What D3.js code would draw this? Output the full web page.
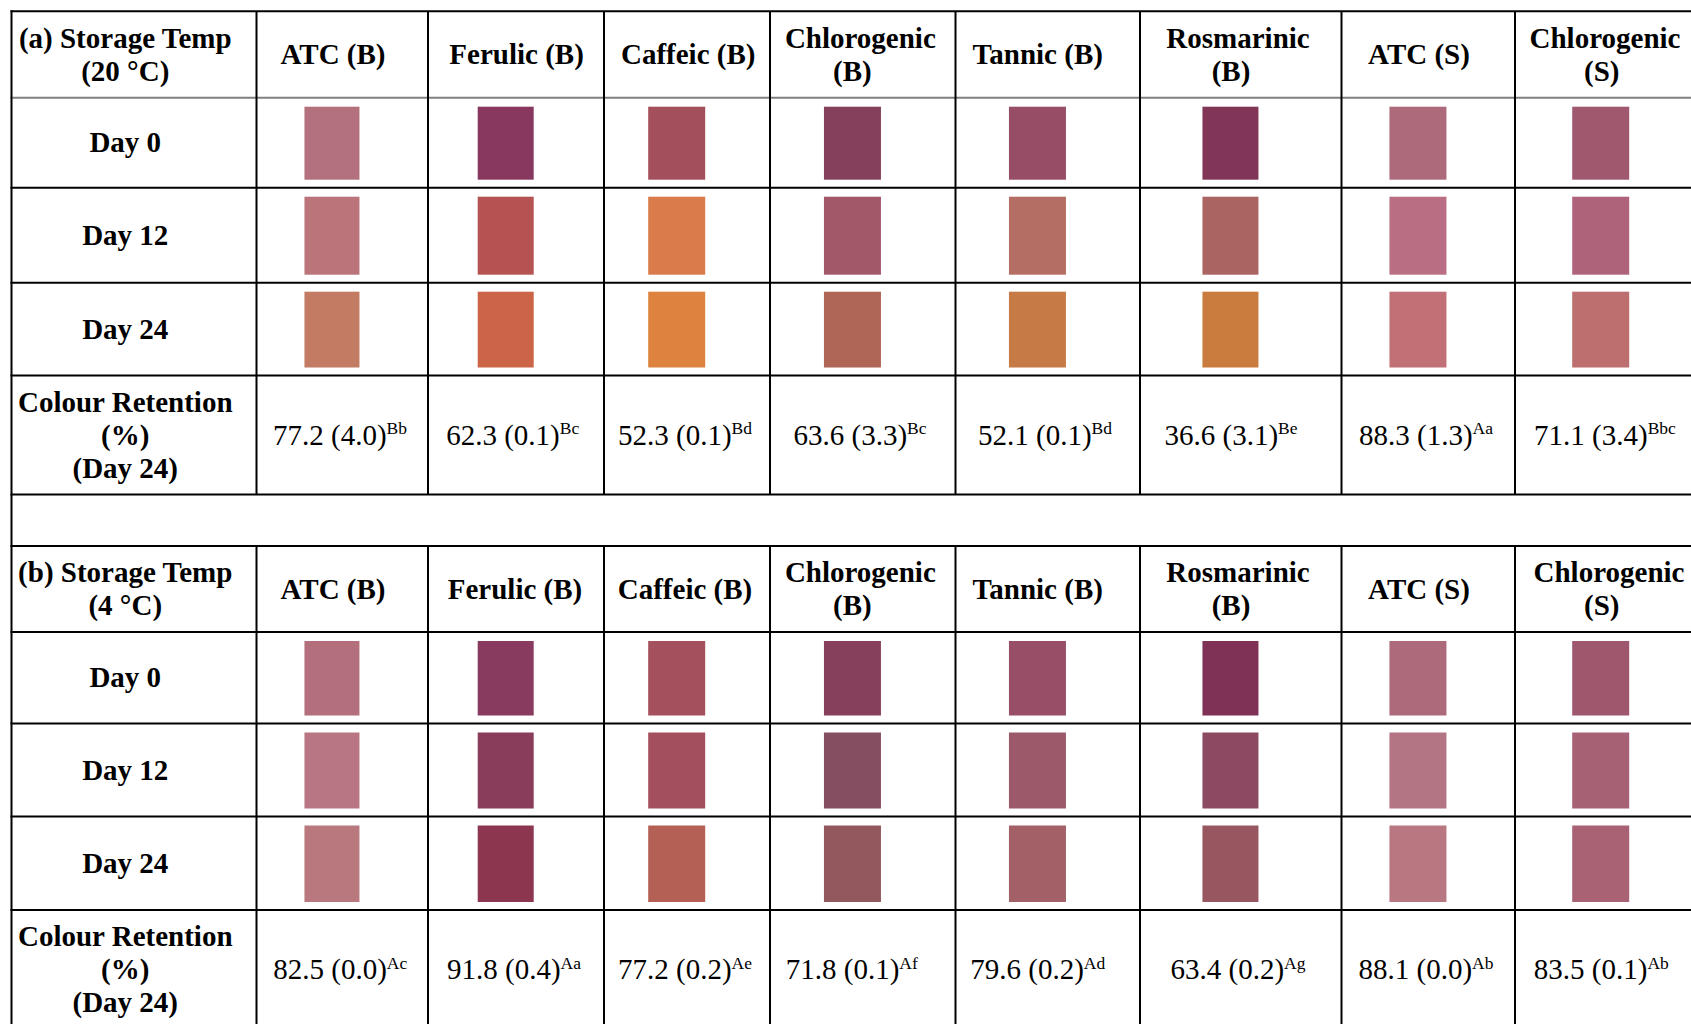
<!DOCTYPE html>
<html><head><meta charset="utf-8">
<script src="https://cdn.jsdelivr.net/npm/d3@7"></script>
<style>html,body{margin:0;padding:0;background:#fff;overflow:hidden}</style>
</head><body><svg id="c" width="1691" height="1024"></svg>
<script>
// ---------- data ----------
const columns = ["ATC (B)","Ferulic (B)","Caffeic (B)","Chlorogenic (B)","Tannic (B)","Rosmarinic (B)","ATC (S)","Chlorogenic (S)"];
const headerLines = [["ATC (B)"],["Ferulic (B)"],["Caffeic (B)"],["Chlorogenic","(B)"],["Tannic (B)"],["Rosmarinic","(B)"],["ATC (S)"],["Chlorogenic","(S)"]];
const days = ["Day 0","Day 12","Day 24"];
const panelTitles = [["(a) Storage Temp","(20 °C)"],["(b) Storage Temp","(4 °C)"]];
const retentionLabel = ["Colour Retention","(%)","(Day 24)"];

const colours20 = [
  ["#b3707d","#88385e","#a3505c","#85415c","#974d66","#813657","#ad6a7b","#a0586f"],
  ["#bb7479","#b55252","#d97b4b","#a3586a","#b56e64","#aa6462","#b96e84","#ae637b"],
  ["#c47b63","#cc6447","#dd833f","#b06657","#c67b47","#c97c3d","#c17075","#bd6f6f"]
];
const colours4 = [
  ["#b46f7c","#893a5f","#a4505d","#86405c","#984e67","#7f3156","#ad6a7a","#9f576d"],
  ["#b87682","#8a3c5b","#a44f5d","#854e61","#9c5969","#8c4962","#b37484","#a66174"],
  ["#b9787e","#8c3650","#b46055","#92585e","#a36066","#985660","#b97782","#a86274"]
];

const retention20 = [77.2,62.3,52.3,63.6,52.1,36.6,88.3,71.1];
const sd20 = [4.0,0.1,0.1,3.3,0.1,3.1,1.3,3.4];
const letters20 = ["Bb","Bc","Bd","Bc","Bd","Be","Aa","Bbc"];
const retention4 = [82.5,91.8,77.2,71.8,79.6,63.4,88.1,83.5];
const sd4 = [0.0,0.4,0.2,0.1,0.2,0.2,0.0,0.1];
const letters4 = ["Ac","Aa","Ae","Af","Ad","Ag","Ab","Ab"];

// ---------- layout ----------
const colEdges = [11.5,256.5,428,604,770,955.5,1140,1341.5,1515,1707];
const rowKeys = ["header", ...days, "retention"];
const panelRowEdges = [
  [11.3,97.7,187.7,282.7,375.5,494.5],
  [546,632,723.5,816.5,910,1029]
];
const headerDx = [
  [[-9.25],[0.6],[1.2],[-2.4,-10.3],[-10],[-2.7,-9.7],[-9.25],[-6,-9.2]],
  [[-9.25],[-1],[-2],[-2.4,-10.3],[-10],[-2.7,-9.7],[-9.25],[-2,-9.3]]
];
const valueDx = [
  [-2.25,-3.3,-2,-2.75,-2.75,-9.7,-2.25,-6],
  [-2,-2,-2,-11,-10,-2.75,-2.25,-9.7]
];
const swatchW = [55,56,57,57,57,56,57,57];
const labelDx = -8.75;
const FONT = "'Liberation Serif','Times New Roman',serif";
const FS = 29, LH = 33, BASE = 9.6;

const svg = d3.select("#c");
const colKeys = ["label", ...columns];
const xLeft = d3.scaleOrdinal().domain(colKeys).range(colEdges.slice(0,-1));
const xRight = d3.scaleOrdinal().domain(colKeys).range(colEdges.slice(1));
const xCenter = k => (xLeft(k) + xRight(k)) / 2;

const fmt = d3.format(".1f");

const panels = [
  {title: panelTitles[0], colours: colours20, ret: retention20, sd: sd20, letters: letters20, headerLine: "#808080"},
  {title: panelTitles[1], colours: colours4, ret: retention4, sd: sd4, letters: letters4, headerLine: "#000"}
];

function multiline(g, lines, cx, cy, weight, dxs) {
  const n = lines.length;
  lines.forEach((t, i) => {
    g.append("text")
      .attr("x", cx + (dxs ? dxs[i] : 0))
      .attr("y", cy + (i - (n - 1) / 2) * LH + BASE)
      .attr("text-anchor", "middle")
      .attr("font-family", FONT)
      .attr("font-size", FS)
      .attr("font-weight", weight)
      .attr("fill", "#000")
      .text(t);
  });
}

panels.forEach((p, pi) => {
  const edges = panelRowEdges[pi];
  const yTop = d3.scaleOrdinal().domain(rowKeys).range(edges.slice(0,-1));
  const yBot = d3.scaleOrdinal().domain(rowKeys).range(edges.slice(1));
  const yC = k => (yTop(k) + yBot(k)) / 2;
  const g = svg.append("g");

  // swatches
  const cells = [];
  days.forEach((d, di) => columns.forEach((c, ci) => cells.push({d, c, ci, fill: p.colours[di][ci]})));
  g.selectAll("rect.sw").data(cells).join("rect")
    .attr("class", "sw")
    .attr("x", e => xCenter(e.c) - 10.3 - swatchW[e.ci] / 2)
    .attr("y", e => yTop(e.d) + 9)
    .attr("width", e => swatchW[e.ci])
    .attr("height", e => yBot(e.d) - 8 - (yTop(e.d) + 9))
    .attr("fill", e => e.fill);

  // label column
  multiline(g, p.title, xCenter("label") + labelDx, yC("header"), "bold");
  days.forEach(d => multiline(g, [d], xCenter("label") + labelDx, yC(d), "bold"));
  multiline(g, retentionLabel, xCenter("label") + labelDx, yC("retention"), "bold");

  // headers
  columns.forEach((c, ci) => multiline(g, headerLines[ci], xCenter(c), yC("header"), "bold", headerDx[pi][ci]));

  // retention values
  columns.forEach((c, ci) => {
    const t = g.append("text")
      .attr("x", xCenter(c) + valueDx[pi][ci])
      .attr("y", yC("retention") + BASE)
      .attr("text-anchor", "middle")
      .attr("font-family", FONT)
      .attr("font-size", FS)
      .attr("fill", "#000");
    t.append("tspan").text(`${fmt(p.ret[ci])} (${fmt(p.sd[ci])})`);
    t.append("tspan").attr("font-size", 17.5).attr("dy", -10.5).text(p.letters[ci]);
  });

  // grid lines
  const hl = g.append("g");
  edges.forEach((y, i) => {
    hl.append("line").attr("x1", colEdges[0] - 1).attr("x2", 1720)
      .attr("y1", y).attr("y2", y)
      .attr("stroke", i === 1 ? p.headerLine : "#000").attr("stroke-width", 2);
  });
  colEdges.slice(1).forEach(x => {
    hl.append("line").attr("x1", x).attr("x2", x)
      .attr("y1", edges[0]).attr("y2", edges[edges.length - 1])
      .attr("stroke", "#000").attr("stroke-width", 2);
  });
});

// outer left border across both panels and the spacer
svg.append("line").attr("x1", colEdges[0]).attr("x2", colEdges[0])
  .attr("y1", panelRowEdges[0][0] - 1).attr("y2", 1040)
  .attr("stroke", "#000").attr("stroke-width", 2);
</script>
</body></html>
